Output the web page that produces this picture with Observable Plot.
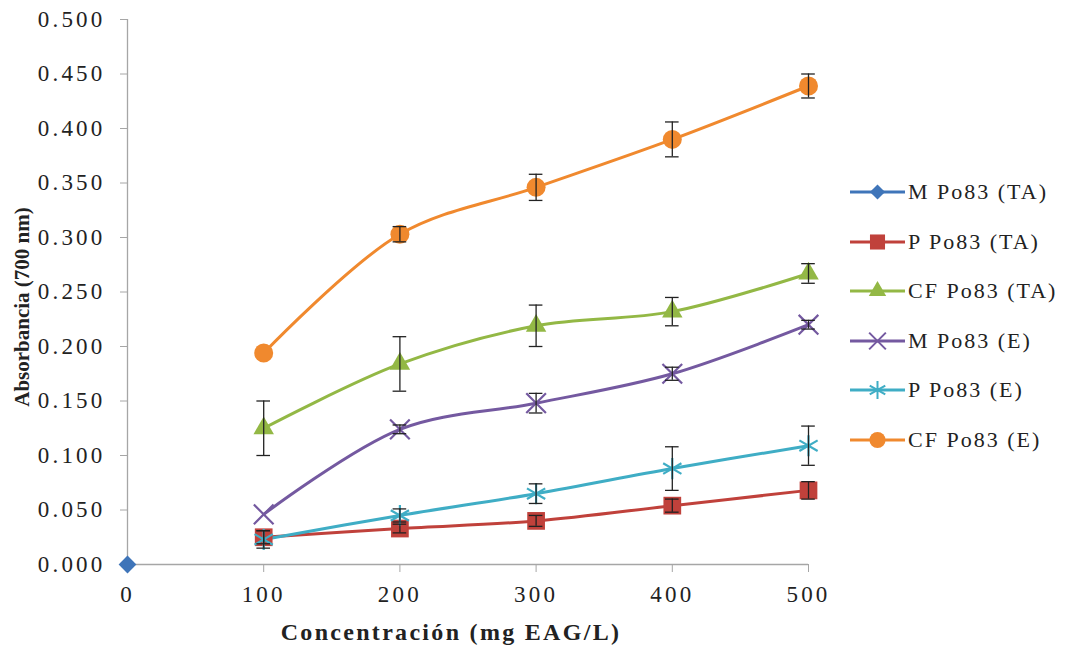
<!DOCTYPE html>
<html>
<head>
<meta charset="utf-8">
<script src="https://cdn.jsdelivr.net/npm/d3@7"></script>
<script src="https://cdn.jsdelivr.net/npm/@observablehq/plot@0.6"></script>
<style>
  html, body { margin: 0; padding: 0; background: #fff; }
  #wrap { position: relative; width: 1070px; height: 645px; background: #fff; font-family: "Liberation Serif", "Times New Roman", serif; color: #222; }
  #wrap svg.chart { position: absolute; left: 0; top: 0; font-family: "Liberation Serif", "Times New Roman", serif; font-size: 23px; letter-spacing: 3.2px; }
  .ytitle { position: absolute; left: 22px; top: 307px; transform: translate(-50%, -50%) rotate(-90deg); white-space: nowrap; font-weight: bold; font-size: 21px; }
  .xtitle { position: absolute; left: 451px; top: 632px; transform: translate(-50%, -50%); white-space: nowrap; font-weight: bold; font-size: 24px; letter-spacing: 2.3px; }
  .legrow { position: absolute; left: 850px; height: 26px; display: flex; align-items: center; white-space: nowrap; font-size: 22px; letter-spacing: 2px; }
  .legrow svg { display: block; margin-right: 2px; }
</style>
</head>
<body>
<div id="wrap">
  <div class="ytitle">Absorbancia (700 nm)</div>
  <div class="xtitle">Concentración (mg EAG/L)</div>
</div>
<script>
// ---- data ----
const seriesNames = ["M Po83 (TA)", "P Po83 (TA)", "CF Po83 (TA)", "M Po83 (E)", "P Po83 (E)", "CF Po83 (E)"];
const seriesColors = ["#3F75B9", "#C0413B", "#93B845", "#7459A0", "#3FADC5", "#F0892E"];
const seriesSymbols = ["diamond2", "square", "triangle", "times", "asterisk", "circle"];
const seriesFilled = [true, true, true, false, false, true];
const seriesRadius = [8, 10, 7.6, 9, 10, 9.5];

const concentrations = [100, 200, 300, 400, 500];
const mPo83TA_x = [0];
const mPo83TA = [0.000];
const mPo83TA_err = [0];
const pPo83TA = [0.025, 0.033, 0.040, 0.054, 0.068];
const pPo83TA_err = [0.006, 0.004, 0.005, 0.006, 0.008];
const cfPo83TA = [0.125, 0.184, 0.219, 0.232, 0.267];
const cfPo83TA_err = [0.025, 0.025, 0.019, 0.013, 0.009];
const mPo83E = [0.046, 0.124, 0.148, 0.175, 0.220];
const mPo83E_err = [0, 0.004, 0.009, 0.006, 0.004];
const pPo83E = [0.023, 0.045, 0.065, 0.088, 0.109];
const pPo83E_err = [0.008, 0.006, 0.009, 0.020, 0.018];
const cfPo83E = [0.194, 0.303, 0.346, 0.390, 0.439];
const cfPo83E_err = [0, 0.007, 0.012, 0.016, 0.011];

const xTicks = [0, 100, 200, 300, 400, 500];
const yTicks = [0, 0.05, 0.1, 0.15, 0.2, 0.25, 0.3, 0.35, 0.4, 0.45, 0.5];

// ---- build table ----
const seriesX = [mPo83TA_x, concentrations, concentrations, concentrations, concentrations, concentrations];
const seriesY = [mPo83TA, pPo83TA, cfPo83TA, mPo83E, pPo83E, cfPo83E];
const seriesE = [mPo83TA_err, pPo83TA_err, cfPo83TA_err, mPo83E_err, pPo83E_err, cfPo83E_err];
const bySeries = seriesNames.map((name, i) =>
  seriesX[i].map((x, j) => ({series: name, x, y: seriesY[i][j], err: seriesE[i][j]}))
);
const rows = bySeries.flat();
const errRows = rows.filter(d => d.err > 0);
const capHalf = 5;

const axisGray = "#a6a6a6";

const marks = [
  Plot.ruleY([0], {stroke: axisGray, strokeWidth: 1.3}),
  Plot.ruleX([0], {stroke: axisGray, strokeWidth: 1.3}),
  Plot.axisX({ticks: xTicks, tickSize: 8, tickPadding: 13, stroke: axisGray, color: "#222", label: null, tickFormat: d3.format("d")}),
  Plot.axisY({ticks: yTicks, tickSize: 7, tickPadding: 15, stroke: axisGray, color: "#222", label: null, tickFormat: d3.format(".3f")}),
  Plot.line(rows, {x: "x", y: "y", z: "series", stroke: "series", strokeWidth: 3, curve: "catmull-rom"})
];
bySeries.forEach((data, i) => {
  marks.push(Plot.dot(data, {
    x: "x", y: "y",
    symbol: seriesSymbols[i],
    r: seriesRadius[i],
    fill: seriesFilled[i] ? seriesColors[i] : "none",
    stroke: seriesFilled[i] ? "none" : seriesColors[i],
    strokeWidth: 2.2
  }));
});
marks.push(
  Plot.ruleX(errRows, {x: "x", y1: d => d.y - d.err, y2: d => d.y + d.err, stroke: "#222", strokeWidth: 1.3}),
  Plot.ruleY(errRows, {y: d => d.y + d.err, x1: d => d.x - capHalf, x2: d => d.x + capHalf, stroke: "#222", strokeWidth: 1.3}),
  Plot.ruleY(errRows, {y: d => d.y - d.err, x1: d => d.x - capHalf, x2: d => d.x + capHalf, stroke: "#222", strokeWidth: 1.3})
);

const chart = Plot.plot({
  width: 1070,
  height: 645,
  marginLeft: 127,
  marginRight: 262,
  marginTop: 19,
  marginBottom: 81,
  x: {domain: [0, 500]},
  y: {domain: [0, 0.5]},
  color: {domain: seriesNames, range: seriesColors},
  style: {background: "white", overflow: "visible"},
  marks
});
chart.classList.add("chart");
const wrap = document.getElementById("wrap");
wrap.insertBefore(chart, wrap.firstChild);

// ---- legend ----
const symbolTypes = {diamond2: d3.symbolDiamond2, square: d3.symbolSquare, triangle: d3.symbolTriangle, times: d3.symbolTimes, asterisk: d3.symbolAsterisk, circle: d3.symbolCircle};
const legendTop = 192, legendStep = 49.6;
seriesNames.forEach((name, i) => {
  const row = document.createElement("div");
  row.className = "legrow";
  row.style.top = (legendTop + i * legendStep - 13) + "px";
  const sw = d3.create("svg").attr("width", 56).attr("height", 26);
  sw.append("line").attr("x1", 0).attr("x2", 55).attr("y1", 13).attr("y2", 13)
    .attr("stroke", seriesColors[i]).attr("stroke-width", 3);
  const r = seriesRadius[i] * 0.85;
  sw.append("path")
    .attr("transform", "translate(27.5,13)")
    .attr("d", d3.symbol(symbolTypes[seriesSymbols[i]], Math.PI * r * r)())
    .attr("fill", seriesFilled[i] ? seriesColors[i] : "none")
    .attr("stroke", seriesFilled[i] ? "none" : seriesColors[i])
    .attr("stroke-width", 2);
  row.appendChild(sw.node());
  const t = document.createElement("span");
  t.textContent = name;
  row.appendChild(t);
  wrap.appendChild(row);
});
</script>
</body>
</html>
